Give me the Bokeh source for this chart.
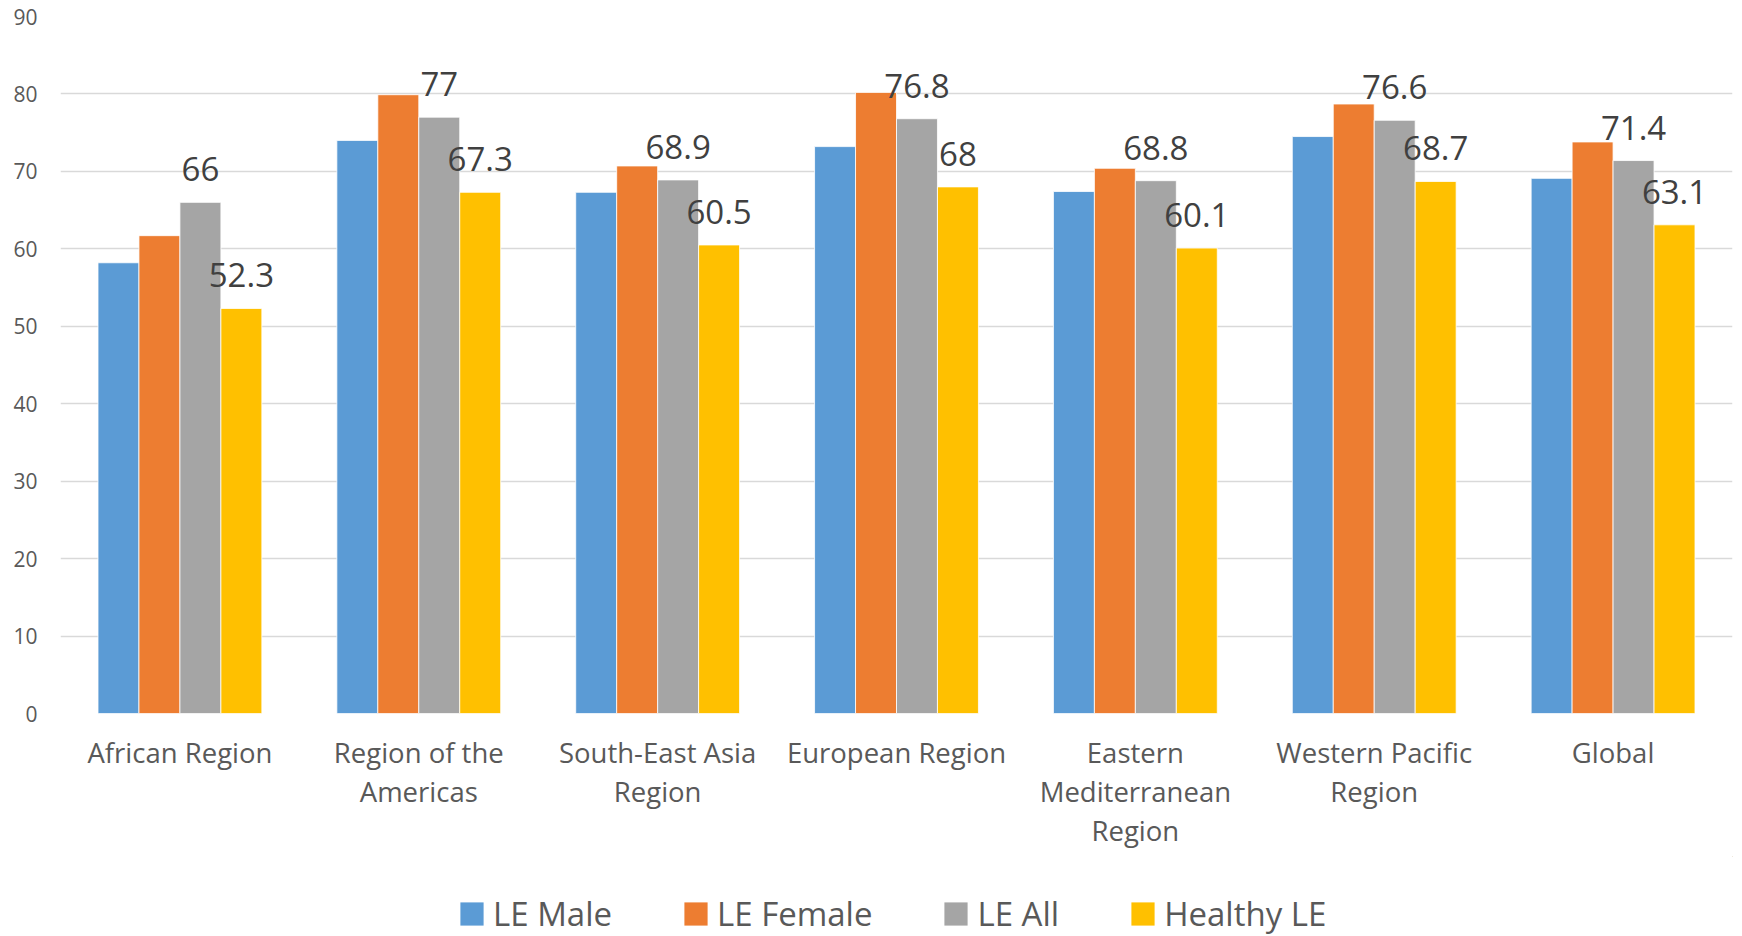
from bokeh.plotting import figure
from bokeh.models import ColumnDataSource, FactorRange, FixedTicker, Legend, LegendItem, Range1d
from bokeh.layouts import column
from bokeh.transform import dodge
from bokeh.core.properties import value
from bokeh.embed import file_html
from bokeh.resources import INLINE

regions = ["African Region", "Region of the\nAmericas", "South-East Asia\nRegion",
           "European Region", "Eastern\nMediterranean\nRegion", "Western Pacific\nRegion", "Global"]
le_male = [58.2, 74.0, 67.3, 73.2, 67.4, 74.5, 69.1]
le_female = [61.7, 79.9, 70.7, 80.2, 70.4, 78.7, 73.8]
le_all = [66, 77, 68.9, 76.8, 68.8, 76.6, 71.4]
healthy_le = [52.3, 67.3, 60.5, 68, 60.1, 68.7, 63.1]
series_names = ["LE Male", "LE Female", "LE All", "Healthy LE"]
colors = ["#5B9BD5", "#ED7D31", "#A5A5A5", "#FFC000"]
y_ticks = [0, 10, 20, 30, 40, 50, 60, 70, 80, 90]

src = ColumnDataSource(dict(
    region=regions, male=le_male, female=le_female, all=le_all, healthy=healthy_le,
    all_lbl=[f"{v:g}" for v in le_all], healthy_lbl=[f"{v:g}" for v in healthy_le],
))

FONT = "Open Sans"
W = 1742
H1 = 856
p = figure(x_range=FactorRange(*regions), y_range=Range1d(0, 90),
           width=W, height=H1, output_backend="svg", toolbar_location=None,
           min_border_left=60, min_border_right=10, min_border_top=16,
           min_border_bottom=H1 - 16 - 697)
p.outline_line_color = None
p.background_fill_color = "white"

bw = 0.1715
offs = [-1.5 * bw, -0.5 * bw, 0.5 * bw, 1.5 * bw]
fields = ["male", "female", "all", "healthy"]
for f, o, c in zip(fields, offs, colors):
    p.vbar(x=dodge("region", o, range=p.x_range), top=f, width=bw, source=src,
           fill_color=c, line_color="white", line_width=0.8)

for f, lf, o in [("all", "all_lbl", offs[2]), ("healthy", "healthy_lbl", offs[3])]:
    p.text(x=dodge("region", o, range=p.x_range), y=f, text=lf, source=src,
           text_align="center", text_baseline="alphabetic", y_offset=-33,
           text_font=value(FONT), text_font_size="33px", text_color="#404040")

p.yaxis.ticker = FixedTicker(ticks=y_ticks)
p.ygrid.ticker = FixedTicker(ticks=y_ticks)
p.xgrid.grid_line_color = None
p.ygrid.grid_line_color = "#D9D9D9"
p.ygrid.grid_line_width = 1.5

for ax in (p.xaxis, p.yaxis):
    ax.axis_line_color = None
    ax.major_tick_line_color = None
    ax.minor_tick_line_color = None
    ax.major_tick_in = 0
    ax.major_tick_out = 0
    ax.major_label_text_font = FONT
    ax.major_label_text_color = "#595959"

p.yaxis.major_label_text_font_size = "21px"
p.yaxis.major_label_standoff = 23
p.xaxis.major_label_text_font_size = "27.5px"
p.xaxis.major_label_standoff = 20
p.xaxis.major_label_text_line_height = 1.06

# legend strip below the chart
lg = figure(width=W, height=936 - H1, x_range=Range1d(0, 1), y_range=Range1d(0, 1),
            x_axis_location=None, y_axis_location=None,
            output_backend="svg", toolbar_location=None,
            min_border_left=0, min_border_right=0, min_border_top=0, min_border_bottom=0)
lg.grid.visible = False
lg.outline_line_color = None
rends = []
for c in colors:
    rends.append(lg.vbar(x=[5], top=[5], bottom=[4], width=0.1, fill_color=c, line_color=None))
legend = Legend(items=[LegendItem(label=n, renderers=[r]) for n, r in zip(series_names, rends)],
                orientation="horizontal", location=(397, 0),
                glyph_width=29, glyph_height=29, label_standoff=7, spacing=69,
                padding=0, margin=0, border_line_color=None, background_fill_alpha=0,
                label_text_font=FONT, label_text_font_size="33px", label_text_color="#595959",
                label_height=29)
lg.add_layout(legend, "center")

layout = column(p, lg, spacing=0)
open("out.html", "w").write(file_html(layout, INLINE))
